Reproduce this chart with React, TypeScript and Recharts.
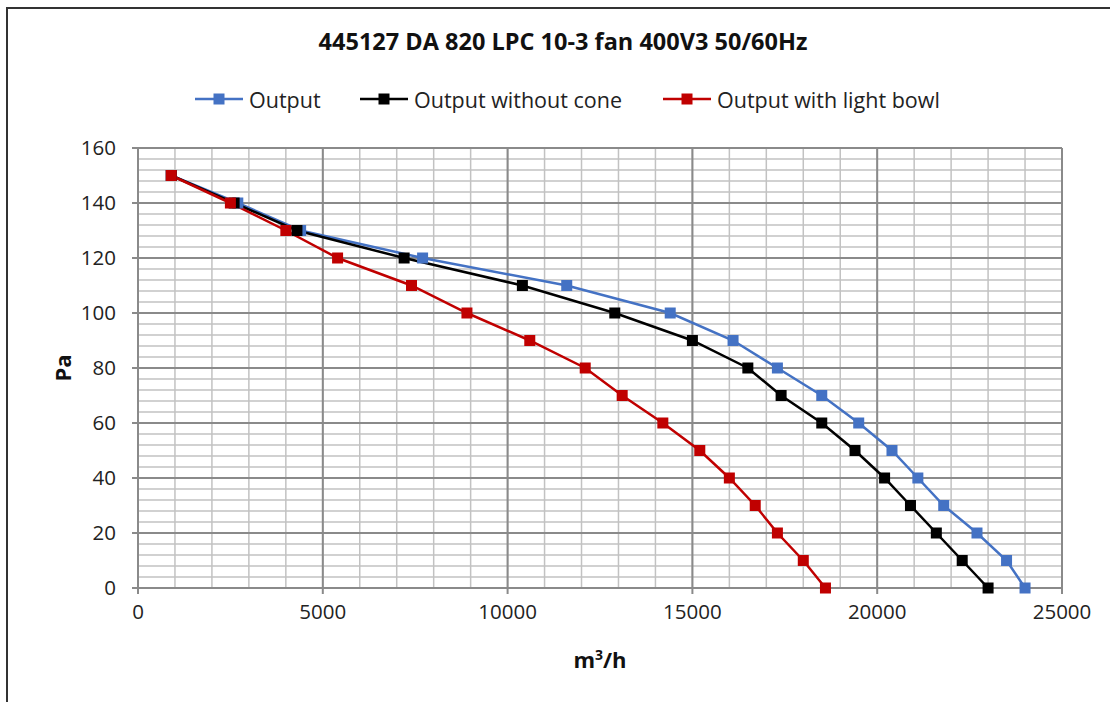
import React from 'react';
import { LineChart, Line, XAxis, YAxis, CartesianGrid } from 'recharts';

const TITLE = '445127 DA 820 LPC 10-3 fan 400V3 50/60Hz';
const Y_LABEL = 'Pa';

const pressure = [150, 140, 130, 120, 110, 100, 90, 80, 70, 60, 50, 40, 30, 20, 10, 0];
const outputFlow = [900, 2700, 4400, 7700, 11600, 14400, 16100, 17300, 18500, 19500, 20400, 21100, 21800, 22700, 23500, 24000];
const noConeFlow = [900, 2600, 4300, 7200, 10400, 12900, 15000, 16500, 17400, 18500, 19400, 20200, 20900, 21600, 22300, 23000];
const bowlFlow = [900, 2500, 4000, 5400, 7400, 8900, 10600, 12100, 13100, 14200, 15200, 16000, 16700, 17300, 18000, 18600];

const xMajorTicks = [0, 5000, 10000, 15000, 20000, 25000];
const xMinorTicks = Array.from({ length: 26 }, (_, i) => i * 1000);
const yMajorTicks = [0, 20, 40, 60, 80, 100, 120, 140, 160];
const yMinorTicks = Array.from({ length: 41 }, (_, i) => i * 4);

const seriesNames = ['Output', 'Output without cone', 'Output with light bowl'];
const seriesColors = ['#4472C4', '#000000', '#C00000'];

const toPoints = (xs: number[]) => xs.map((x, i) => ({ x, y: pressure[i] }));
const seriesData = [toPoints(outputFlow), toPoints(noConeFlow), toPoints(bowlFlow)];

const FONT = '"Open Sans", sans-serif';
const GRID_MAJOR = '#8a8a8a';
const GRID_MINOR = '#c2c2c2';

const squareDot = (color: string) => (props: any) => {
  const { cx, cy, index } = props;
  if (cx == null || cy == null) return <g key={`d${index}`} />;
  return <rect key={`d${index}`} x={cx - 5.5} y={cy - 5.5} width={11} height={11} fill={color} stroke="none" />;
};

const scaleOf = (axis: any) => {
  const s = axis && axis.scale;
  if (!s) return null;
  return typeof s === 'function' ? s : s.map ? (v: number) => s.map(v) : null;
};

const minorVertical = (props: any) => {
  const sc = scaleOf(props.xAxis);
  if (!sc) return [];
  return xMinorTicks.map((t) => sc(t));
};
const minorHorizontal = (props: any) => {
  const sc = scaleOf(props.yAxis);
  if (!sc) return [];
  return yMinorTicks.map((t) => sc(t));
};

const legendLeft = [195, 360, 663];

export default function App() {
  return (
    <div style={{ position: 'absolute', left: 0, top: 0, width: 1110, height: 702, background: '#fff', overflow: 'hidden', fontFamily: FONT }}>
      <div style={{ position: 'absolute', left: 6, top: 7, width: 1110, height: 702, borderLeft: '2px solid #333', borderTop: '2px solid #333' }} />
      <div style={{ position: 'absolute', left: 0, top: 25, width: 1126, textAlign: 'center', fontWeight: 700, fontSize: 23.5, color: '#111' }}>
        {TITLE}
      </div>
      {seriesNames.map((name, i) => (
        <div key={name} style={{ position: 'absolute', left: legendLeft[i], top: 85, height: 28, display: 'flex', alignItems: 'center', whiteSpace: 'nowrap' }}>
          <svg width={50} height={14} style={{ marginRight: 4 }}>
            <line x1={0} y1={7} x2={48} y2={7} stroke={seriesColors[i]} strokeWidth={2.5} />
            <rect x={18.5} y={1.5} width={11} height={11} fill={seriesColors[i]} />
          </svg>
          <span style={{ fontSize: 21.5, color: '#222' }}>{name}</span>
        </div>
      ))}
      <div style={{ position: 'absolute', left: 0, top: 0 }}>
        <LineChart width={1110} height={702} margin={{ top: 148, right: 48, bottom: 54, left: 0 }}>
          <CartesianGrid
            stroke={GRID_MINOR}
            strokeWidth={1.5}
            verticalCoordinatesGenerator={minorVertical}
            horizontalCoordinatesGenerator={minorHorizontal}
          />
          <CartesianGrid stroke={GRID_MAJOR} strokeWidth={2} />
          <XAxis
            type="number"
            dataKey="x"
            domain={[0, 25000]}
            ticks={xMajorTicks}
            interval={0}
            height={60}
            tickSize={6}
            tickMargin={10}
            axisLine={{ stroke: GRID_MAJOR, strokeWidth: 2 }}
            tickLine={{ stroke: GRID_MAJOR, strokeWidth: 2 }}
            tick={{ fill: '#222', fontSize: 20.5, fontFamily: FONT }}
            label={{
              content: (p: any) => {
                const vb = p.viewBox;
                return (
                  <text x={vb.x + vb.width / 2} y={vb.y + 80} textAnchor="middle" fontFamily={FONT} fontSize={22} fontWeight={700} fill="#111">
                    m<tspan dy={-8} fontSize={14}>3</tspan><tspan dy={8}>/h</tspan>
                  </text>
                );
              },
            }}
          />
          <YAxis
            type="number"
            dataKey="y"
            domain={[0, 160]}
            ticks={yMajorTicks}
            interval={0}
            width={138}
            tickSize={6}
            tickMargin={16}
            axisLine={{ stroke: GRID_MAJOR, strokeWidth: 2 }}
            tickLine={{ stroke: GRID_MAJOR, strokeWidth: 2 }}
            tick={{ fill: '#222', fontSize: 20.5, fontFamily: FONT }}
            label={{
              content: (p: any) => {
                const vb = p.viewBox;
                const cx = vb.x + 62;
                const cy = vb.y + vb.height / 2;
                return (
                  <text x={cx} y={cy} transform={`rotate(-90 ${cx} ${cy})`} textAnchor="middle" dominantBaseline="central" fontFamily={FONT} fontSize={22} fontWeight={700} fill="#111">
                    {Y_LABEL}
                  </text>
                );
              },
            }}
          />
          {seriesData.map((d, i) => (
            <Line
              key={seriesNames[i]}
              data={d}
              dataKey="y"
              name={seriesNames[i]}
              type="linear"
              stroke={seriesColors[i]}
              strokeWidth={2.5}
              dot={squareDot(seriesColors[i])}
              activeDot={false}
              isAnimationActive={false}
            />
          ))}
        </LineChart>
      </div>
    </div>
  );
}
